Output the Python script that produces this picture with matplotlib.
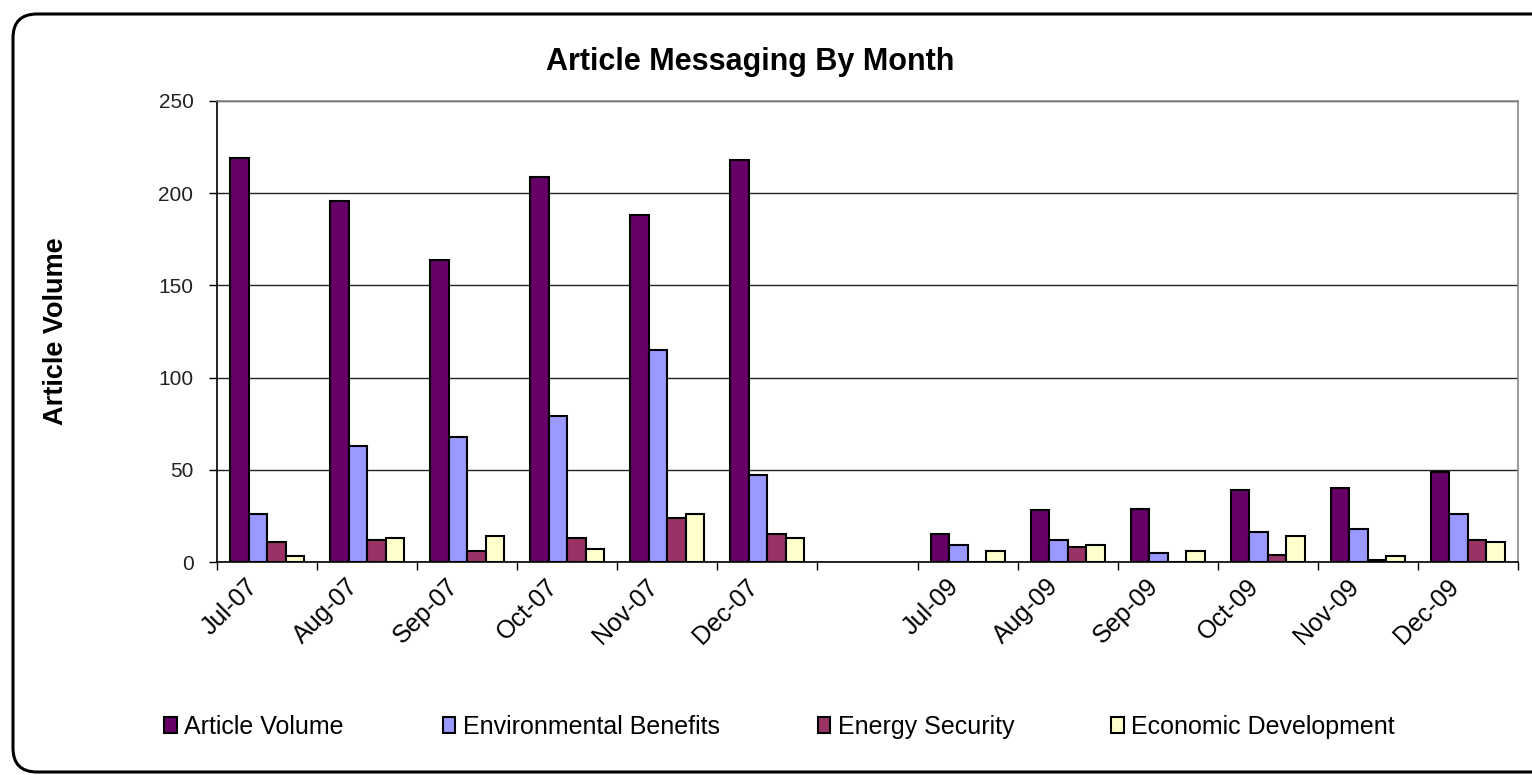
import numpy as np
import matplotlib
matplotlib.use("Agg")
import matplotlib.pyplot as plt
from matplotlib.patches import FancyBboxPatch
from matplotlib.transforms import ScaledTranslation

plt.rcParams['font.family'] = ['Liberation Sans', 'DejaVu Sans']

# Data
months = ["Jul-07", "Aug-07", "Sep-07", "Oct-07", "Nov-07", "Dec-07", "",
          "Jul-09", "Aug-09", "Sep-09", "Oct-09", "Nov-09", "Dec-09"]
series_names = ["Article Volume", "Environmental Benefits",
                "Energy Security", "Economic Development"]
article_volume = [219, 196, 164, 209, 188, 218, np.nan, 15, 28, 29, 39, 40, 49]
environmental_benefits = [26, 63, 68, 79, 115, 47, np.nan, 9, 12, 5, 16, 18, 26]
energy_security = [11, 12, 6, 13, 24, 15, np.nan, 0, 8, 0, 4, 1, 12]
economic_development = [3, 13, 14, 7, 26, 13, np.nan, 6, 9, 6, 14, 3, 11]
y_ticks = [0, 50, 100, 150, 200, 250]

colors = ["#660066", "#9999FF", "#993366", "#FFFFCC"]

W, H = 1532, 775
fig = plt.figure(figsize=(W / 100, H / 100), dpi=100)
fig.patch.set_facecolor("white")

# Rounded outer frame drawn in pixel space
bg = fig.add_axes([0, 0, 1, 1])
bg.set_xlim(0, W)
bg.set_ylim(H, 0)
bg.axis("off")
frame = FancyBboxPatch((13, 14), 1560, 758,
                       boxstyle="round,pad=0,rounding_size=24",
                       fc="white", ec="black", lw=2.2)
bg.add_patch(frame)

# Plot area
left, right, top, bottom = 217, 1518, 101, 562
ax = fig.add_axes([left / W, 1 - bottom / H, (right - left) / W, (bottom - top) / H])
ax.set_facecolor("white")

x = np.arange(len(months))
bw = 0.185
data = [article_volume, environmental_benefits, energy_security, economic_development]
containers = []
for i, (vals, col, name) in enumerate(zip(data, colors, series_names)):
    c = ax.bar(x + (i - 1.5) * bw, vals, width=bw, color=col, edgecolor="black",
               linewidth=1.5, label=name, zorder=3)
    containers.append(c)

ax.set_xlim(-0.5, len(months) - 0.5)
ax.set_ylim(0, 250)
ax.set_yticks(y_ticks)
ax.yaxis.grid(True, color="#222222", linewidth=1.0, zorder=1)
ax.set_axisbelow(True)

ax.tick_params(axis="y", direction="out", length=6, width=1, pad=11,
               labelsize=15, labelcolor="#222222")
ax.set_xticks(x)
ax.set_xticklabels(months, rotation=45, ha="right", va="center",
                   rotation_mode="anchor", fontsize=18)
ax.tick_params(axis="x", which="major", length=0, pad=15)
shift = ScaledTranslation(-13 / 100, 0, fig.dpi_scale_trans)
for lab in ax.get_xticklabels():
    lab.set_transform(lab.get_transform() + shift)
ax.set_xticks(np.arange(-0.5, len(months)), minor=True)
ax.tick_params(axis="x", which="minor", direction="out", length=6, width=1)

for s in ["left", "bottom"]:
    ax.spines[s].set_color("black")
    ax.spines[s].set_linewidth(1.2)
for s in ["top", "right"]:
    ax.spines[s].set_color("#888888")
    ax.spines[s].set_linewidth(1.2)

ax.set_ylabel("Article Volume", fontsize=19.5, fontweight="bold")
ax.yaxis.set_label_coords((69 - left) / (right - left), 0.5)

fig.text(750 / W, 1 - 62 / H, "Article Messaging By Month", ha="center",
         va="center", fontsize=22, fontweight="bold")

# Legend entries spread along the bottom
legend_x = [164, 443, 818, 1111]
for c, name, lx in zip(containers, series_names, legend_x):
    fig.legend(handles=[c], labels=[name], loc="center left",
               bbox_to_anchor=(lx / W, 1 - 727 / H), frameon=False,
               fontsize=18, handlelength=0.5, handleheight=0.6,
               handletextpad=0.3, borderpad=0, borderaxespad=0)

fig.savefig("out.png", dpi=100, facecolor="white")
